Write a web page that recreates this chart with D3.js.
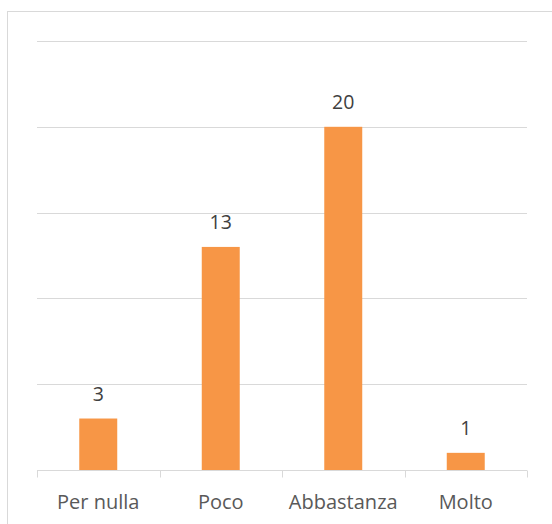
<!DOCTYPE html>
<html>
<head>
<meta charset="utf-8">
<script src="https://cdn.jsdelivr.net/npm/d3@7"></script>
<style>
  html, body { margin: 0; padding: 0; background: #fff; }
  svg { display: block; font-family: "Open Sans", sans-serif; }
</style>
</head>
<body>
<svg id="chart" width="552" height="524"></svg>
<script>
const categories = ["Per nulla", "Poco", "Abbastanza", "Molto"];
const values = [3, 13, 20, 1];
const yTicks = [0, 5, 10, 15, 20, 25];

const svg = d3.select("#chart");
const margin = { left: 37, right: 25, top: 41, bottom: 54 };
const W = 552, H = 524;

// chart area frame
svg.append("rect")
  .attr("x", 7.5).attr("y", 11.5)
  .attr("width", 600).attr("height", 600)
  .attr("fill", "none").attr("stroke", "#d9d9d9").attr("stroke-width", 1);

const x = d3.scaleBand()
  .domain(categories)
  .range([margin.left, W - margin.right])
  .paddingInner(0.69).paddingOuter(0.345);

const y = d3.scaleLinear()
  .domain([0, 25])
  .range([H - margin.bottom, margin.top]);

// horizontal gridlines
svg.append("g")
  .selectAll("line")
  .data(yTicks.filter(d => d > 0))
  .join("line")
  .attr("x1", margin.left).attr("x2", W - margin.right)
  .attr("y1", d => Math.round(y(d)) + 0.5).attr("y2", d => Math.round(y(d)) + 0.5)
  .attr("stroke", "#d9d9d9").attr("stroke-width", 1);

// bars
svg.append("g")
  .selectAll("rect")
  .data(values)
  .join("rect")
  .attr("x", (d, i) => x(categories[i]))
  .attr("width", x.bandwidth())
  .attr("y", d => y(d))
  .attr("height", d => y(0) - y(d))
  .attr("fill", "#f79646");

// value labels
svg.append("g")
  .selectAll("text")
  .data(values)
  .join("text")
  .attr("x", (d, i) => x(categories[i]) + x.bandwidth() / 2)
  .attr("y", d => y(d) - 17.5)
  .attr("text-anchor", "middle")
  .attr("font-size", 19.5)
  .attr("fill", "#404040")
  .text(d => d);

// category axis
const xg = svg.append("g")
  .attr("transform", `translate(0,${Math.round(y(0)) + 0.5})`);
xg.append("line")
  .attr("x1", margin.left).attr("x2", W - margin.right)
  .attr("stroke", "#d9d9d9");
const step = x.step();
const edges = d3.range(categories.length + 1).map(i => margin.left + i * step);
xg.selectAll("line.tick-mark")
  .data(edges)
  .join("line")
  .attr("class", "tick-mark")
  .attr("x1", d => Math.round(d) + 0.5).attr("x2", d => Math.round(d) + 0.5)
  .attr("y1", 0).attr("y2", 7)
  .attr("stroke", "#d9d9d9");
xg.selectAll("text.cat")
  .data(categories)
  .join("text")
  .attr("class", "cat")
  .attr("x", d => x(d) + x.bandwidth() / 2)
  .attr("y", 38)
  .attr("text-anchor", "middle")
  .attr("font-size", 20)
  .attr("fill", "#595959")
  .text(d => d);
</script>
</body>
</html>
